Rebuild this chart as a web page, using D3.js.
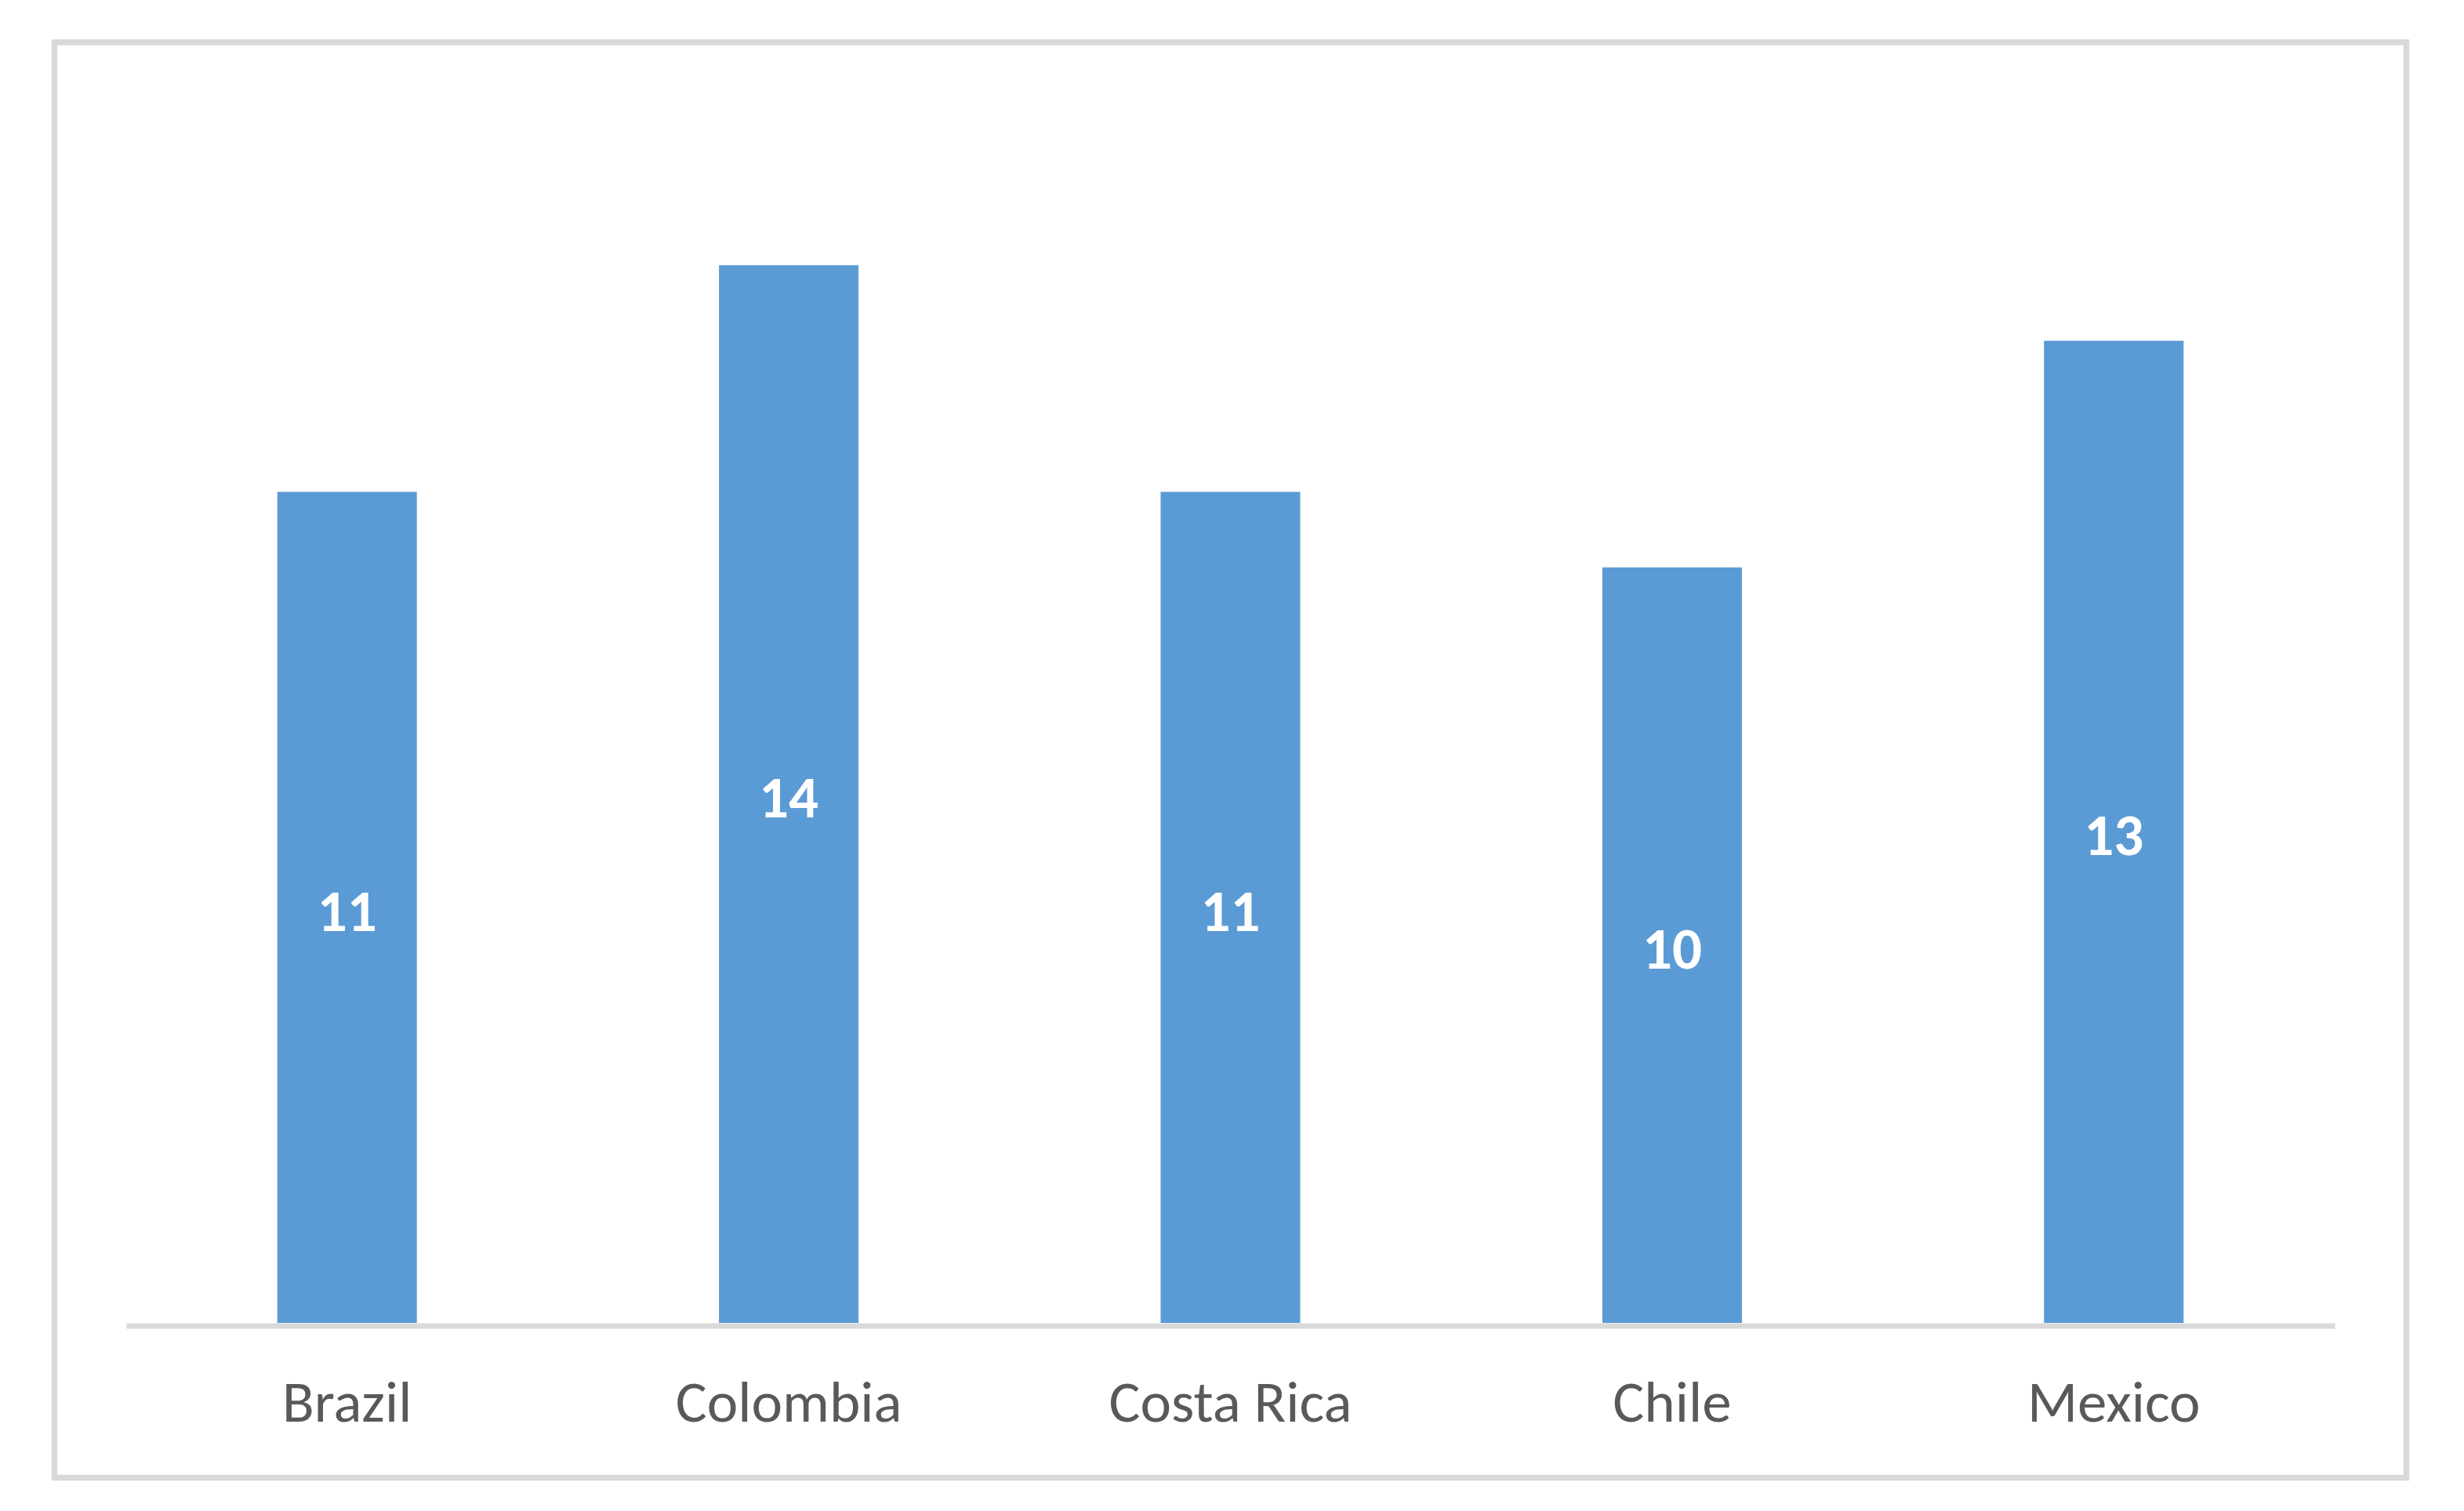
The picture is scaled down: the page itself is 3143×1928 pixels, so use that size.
<!DOCTYPE html>
<html>
<head>
<meta charset="utf-8">
<script src="https://cdn.jsdelivr.net/npm/d3@7"></script>
<style>
  body { margin: 0; background: #fff; }
  svg text { font-family: Carlito, Calibri, Lato, "Open Sans", sans-serif; }
</style>
</head>
<body>
<div id="chart"></div>
<script>
// category names and values
const countries = ["Brazil", "Colombia", "Costa Rica", "Chile", "Mexico"];
const counts = [11, 14, 11, 10, 13];
const yDomain = [0, 16];

const W = 3143, H = 1928;
const plot = {left: 161, right: 2978, base: 1688};

const svg = d3.select("#chart").append("svg")
    .attr("width", W)
    .attr("height", H);

// chart frame
svg.append("rect")
    .attr("x", 69.5).attr("y", 54)
    .attr("width", 3000).attr("height", 1831.5)
    .attr("fill", "#fff")
    .attr("stroke", "#d9d9d9")
    .attr("stroke-width", 7.5);

const x = d3.scaleBand()
    .domain(countries)
    .range([plot.left, plot.right])
    .paddingInner(0.684)
    .paddingOuter(0.342);

const y = d3.scaleLinear()
    .domain(yDomain)
    .range([plot.base, plot.base - 16 * 96.4]);

const data = countries.map((c, i) => ({name: c, value: counts[i]}));

svg.append("g").selectAll("rect")
    .data(data)
  .enter().append("rect")
    .attr("x", d => x(d.name))
    .attr("y", d => y(d.value))
    .attr("width", x.bandwidth())
    .attr("height", d => y(0) - y(d.value))
    .attr("fill", "#5b9bd5");

// value labels in the middle of each bar
svg.append("g").selectAll("text")
    .data(data)
  .enter().append("text")
    .attr("x", d => x(d.name) + x.bandwidth() / 2)
    .attr("y", d => (y(d.value) + y(0)) / 2)
    .attr("dy", "0.4em")
    .attr("text-anchor", "middle")
    .attr("font-size", 75)
    .attr("font-weight", "bold")
    .attr("fill", "#fff")
    .text(d => d.value);

// x axis: line only, no ticks
const xAxis = svg.append("g")
    .attr("transform", "translate(0," + (plot.base + 3.5) + ")")
    .call(d3.axisBottom(x).tickSize(0).tickPadding(0));
xAxis.select(".domain")
    .attr("stroke", "#d9d9d9")
    .attr("stroke-width", 7);
xAxis.selectAll("text")
    .attr("y", 122)
    .attr("dy", 0)
    .attr("font-size", 75)
    .attr("font-family", "Carlito, Calibri, Lato, 'Open Sans', sans-serif")
    .attr("fill", "#595959");
</script>
</body>
</html>
